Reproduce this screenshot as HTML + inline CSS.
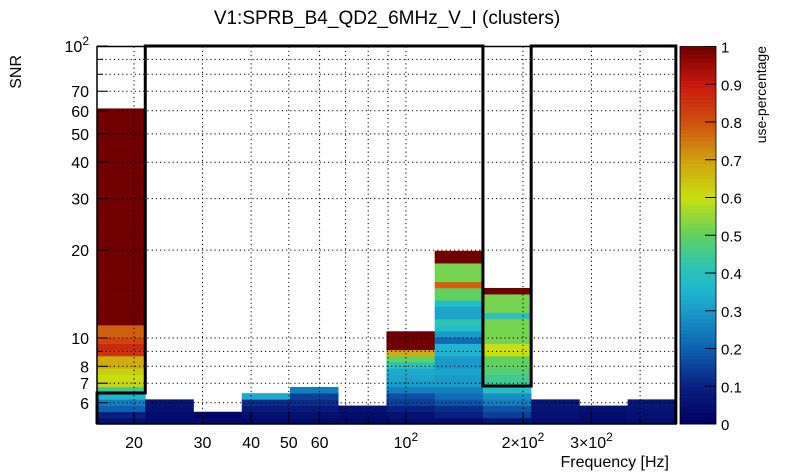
<!DOCTYPE html>
<html><head><meta charset="utf-8"><style>
html,body{margin:0;padding:0;background:#fff;}
svg{display:block;font-family:"Liberation Sans",sans-serif;}
</style></head><body>
<svg id="c" width="805" height="472" xmlns="http://www.w3.org/2000/svg">
<rect width="805" height="472" fill="#fff"/>
<text x="387" y="24" font-size="19" text-anchor="middle">V1:SPRB_B4_QD2_6MHz_V_I (clusters)</text>
<g id="cells"></g><g id="grid"></g><g id="outline"></g><g id="axes"></g><g id="cbar"></g>
</svg>
<script>
const xMin = 16.07, xStepDec = 0.124, nX = 12;
const yMin = 5.07, yStepDec = 0.0212;
const xTicksLabeled = [20,30,40,50,60,100,200,300];
const xTickLabels = ["20","30","40","50","60","10|2","2×10|2","3×10|2"];
const xGridVals = [20,30,40,50,60,70,80,90,100,200,300,400];
const yGridVals = [6,7,8,9,10,20,30,40,50,60,70,80,90];
const yTicksLabeled = [6,7,8,10,20,30,40,50,60,70,100];
const yTickLabels = ["6","7","8","10","20","30","40","50","60","70","10|2"];
const cbTicks = [0,0.1,0.2,0.3,0.4,0.5,0.6,0.7,0.8,0.9,1];
const cbLabels = ["0","0.1","0.2","0.3","0.4","0.5","0.6","0.7","0.8","0.9","1"];
const col0 = [0.05,0.1,0.2,0.25,0.35,0.45,0.62,0.6,0.63,0.68,0.68,0.85,0.87,0.82,0.78,0.78,1,1,1,1,1,1,1,1,1,1,1,1,1,1,1,1,1,1,1,1,1,1,1,1,1,1,1,1,1,1,1,1,1,1,1];
const col1 = [0.03,0.04,0.05,0.06];
const col2 = [0.03,0.02];
const col3 = [0.03,0.05,0.08,0.12,0.33];
const col4 = [0.03,0.05,0.08,0.12,0.15,0.25];
const col5 = [0.03,0.04,0.05];
const col6 = [0.04,0.06,0.1,0.15,0.17,0.25,0.3,0.32,0.33,0.4,0.5,0.68,1,1,1];
const col7 = [0.04,0.1,0.12,0.18,0.22,0.25,0.3,0.3,0.32,0.3,0.3,0.35,0.35,0.22,0.3,0.38,0.42,0.32,0.32,0.38,0.5,0.5,0.78,0.52,0.52,0.52,1,1];
const col8 = [0.06,0.15,0.18,0.25,0.28,0.38,0.45,0.45,0.48,0.5,0.5,0.6,0.6,0.52,0.52,0.52,0.52,0.4,0.52,0.52,0.52,1];
const col9 = [0.04,0.05,0.06,0.07];
const col10 = [0.03,0.04,0.05];
const col11 = [0.04,0.05,0.06,0.07];
const columns = [col0,col1,col2,col3,col4,col5,col6,col7,col8,col9,col10,col11];
const outlineVals = [6.48,100,100,100,100,100,100,100,6.85,100,100,100];

const NS="http://www.w3.org/2000/svg";
const L=97,R=676,T=46.5,B=424;
const X=v=>134+389*(Math.log10(v)-Math.log10(20));
const Y=v=>338-292*(Math.log10(v)-1);
const stops=[[0,[0,0,96]],[0.1,[10,32,128]],[0.2,[14,96,176]],[0.3,[26,154,200]],[0.36,[32,184,208]],[0.42,[48,196,176]],[0.5,[96,208,96]],[0.6,[200,224,16]],[0.7,[208,160,16]],[0.8,[208,80,16]],[0.9,[200,24,16]],[1,[112,0,0]]];
function col(v){for(let i=1;i<stops.length;i++){if(v<=stops[i][0]){const a=stops[i-1],b=stops[i],t=(v-a[0])/(b[0]-a[0]);return 'rgb('+a[1].map((c,k)=>Math.round(c+(b[1][k]-c)*t)).join(',')+')';}}return 'rgb(112,0,0)';}
function mk(tag,attrs,parent){const e=document.createElementNS(NS,tag);for(const k in attrs)e.setAttribute(k,attrs[k]);parent.appendChild(e);return e;}
function setLabel(t,s){const p=s.split('|');t.appendChild(document.createTextNode(p[0]));if(p[1]){const sp=mk('tspan',{dy:-7,'font-size':12},t);sp.textContent=p[1];}}
const xe=i=>xMin*Math.pow(10,i*xStepDec), ye=j=>yMin*Math.pow(10,j*yStepDec);
const gC=document.getElementById('cells');
columns.forEach((c,i)=>{c.forEach((v,j)=>{
 const x0=X(xe(i)),x1=X(xe(i+1)),y0=Y(ye(j)),y1=Y(ye(j+1));
 const r=mk('rect',{x:x0,y:y1,width:x1-x0+0.3,height:y0-y1+0.3,fill:col(v)},gC);
 
 
});});
const gG=document.getElementById('grid');
xGridVals.forEach(v=>{const l=mk('line',{x1:X(v),x2:X(v),y1:T,y2:B,stroke:'#000','stroke-width':1,'stroke-dasharray':'1.2,3'},gG);
 
 });
yGridVals.forEach(v=>{const l=mk('line',{x1:L,x2:R,y1:Y(v),y2:Y(v),stroke:'#000','stroke-width':1,'stroke-dasharray':'1.2,3'},gG);
 
 });
let d='';outlineVals.forEach((v,i)=>{const x0=X(xe(i)),x1=X(xe(i+1)),y=Y(v);d+=(i?'L':'M')+x0+','+y+'L'+x1+','+y;});
d+='L'+X(xe(nX))+','+B;
const o=mk('path',{d:'M'+L+','+B+'L'+d.slice(1),fill:'none',stroke:'#000','stroke-width':3},document.getElementById('outline'));


const gA=document.getElementById('axes');
const fr=mk('rect',{x:L,y:T,width:R-L,height:B-T,fill:'none',stroke:'#000','stroke-width':1.5},gA);


xGridVals.forEach(v=>{mk('line',{x1:X(v),x2:X(v),y1:B,y2:B-(xTicksLabeled.includes(v)?11:6),stroke:'#000'},gA);});
yGridVals.concat([100]).forEach(v=>{mk('line',{x1:L,x2:L+(yTicksLabeled.includes(v)?11:6),y1:Y(v),y2:Y(v),stroke:'#000'},gA);});
xTicksLabeled.forEach((v,i)=>{const t=mk('text',{x:X(v),y:448,'font-size':16,'text-anchor':'middle'},gA);setLabel(t,xTickLabels[i]);
 
 });
yTicksLabeled.forEach((v,i)=>{const t=mk('text',{x:89,y:Y(v)+6,'font-size':16,'text-anchor':'end'},gA);setLabel(t,yTickLabels[i]);
 
 });
const xt=mk('text',{x:669,y:467,'font-size':16,'text-anchor':'end'},gA);xt.textContent='Frequency [Hz]';


const yt=mk('text',{x:0,y:0,'font-size':16,'text-anchor':'end',transform:'translate(21,55) rotate(-90)'},gA);yt.textContent='SNR';


const gB=document.getElementById('cbar');
const CL=680,CR=716,N=100;
for(let k=0;k<N;k++){const y0=B-(B-T)*k/N,y1=B-(B-T)*(k+1)/N;mk('rect',{x:CL,y:y1,width:CR-CL,height:y0-y1+0.5,fill:col((k+0.5)/N)},gB);}
const cb=mk('rect',{x:CL,y:T,width:CR-CL,height:B-T,fill:'none',stroke:'#000','stroke-width':0.8},gB);


cbTicks.forEach((v,i)=>{const y=B-(B-T)*v;mk('line',{x1:CR,x2:CR-11,y1:y,y2:y,stroke:'#000'},gB);
 const t=mk('text',{x:721,y:y+6,'font-size':15},gB);t.textContent=cbLabels[i];
 
 });
const ct=mk('text',{x:0,y:0,'font-size':14,'text-anchor':'end',transform:'translate(766,46) rotate(-90)'},gB);ct.textContent='use-percentage';


</script>
</body></html>
